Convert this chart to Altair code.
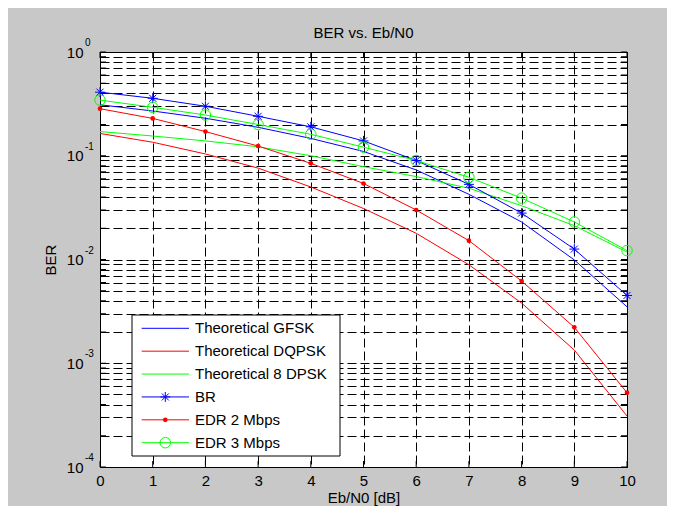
import altair as alt
import pandas as pd

# ---- data ----
ebn0 = [0, 1, 2, 3, 4, 5, 6, 7, 8, 9, 10]
theo_gfsk = [0.31, 0.27, 0.23, 0.188, 0.147, 0.11, 0.073, 0.0425, 0.023, 0.0099, 0.0035]
theo_dqpsk = [0.164, 0.135, 0.104, 0.076, 0.050, 0.031, 0.0179, 0.0089, 0.0038, 0.00134, 0.00031]
theo_8dpsk = [0.171, 0.155, 0.139, 0.122, 0.100, 0.0785, 0.063, 0.0486, 0.033, 0.0212, 0.0118]
br = [0.41, 0.358, 0.30, 0.24, 0.19, 0.139, 0.090, 0.053, 0.028, 0.0126, 0.0045]
edr2 = [0.284, 0.229, 0.171, 0.124, 0.0845, 0.054, 0.030, 0.0152, 0.0062, 0.00222, 0.00052]
edr3 = [0.344, 0.293, 0.247, 0.20, 0.161, 0.121, 0.090, 0.062, 0.039, 0.023, 0.0122]

series_names = ["Theoretical GFSK", "Theoretical DQPSK", "Theoretical 8 DPSK",
                "BR", "EDR 2 Mbps", "EDR 3 Mbps"]
series_colors = ["#0000ff", "#ff0000", "#00ff00", "#0000ff", "#ff0000", "#00ff00"]
series_values = [theo_gfsk, theo_dqpsk, theo_8dpsk, br, edr2, edr3]

x_ticks = list(range(11))
decades = [0, -1, -2, -3, -4]
y_ticks = [m * 10.0 ** e for e in [-4, -3, -2, -1] for m in range(1, 10)] + [1.0]

FONT = "Liberation Sans"
W, H = 527, 415

rows = []
for name, vals in zip(series_names, series_values):
    for xv, yv in zip(ebn0, vals):
        rows.append({"series": name, "ebn0": xv, "ber": yv})
df = pd.DataFrame(rows)

xscale = alt.Scale(domain=[0, 10], nice=False, zero=False)
yscale = alt.Scale(type="log", domain=[1e-4, 1], nice=False)
xaxis = alt.Axis(values=x_ticks, title="Eb/N0 [dB]", grid=True, gridColor="black",
                 gridDash=[9, 4], gridWidth=1, ticks=False, tickSize=0, domain=False,
                 labelPadding=6, labelFontSize=15, labelFont=FONT, labelColor="black",
                 labelFlush=False, labelOverlap=False,
                 titleFont=FONT, titleFontSize=15, titleFontWeight="normal", titleColor="black",
                 titleX=W / 2, titleY=35, titleBaseline="alphabetic", titleAlign="center")
yaxis = alt.Axis(values=y_ticks, title="BER", grid=True, gridColor="black",
                 gridDash=[9, 4], gridWidth=1, ticks=False, tickSize=0, domain=False,
                 labelExpr="abs(log(datum.value)/LN10 - round(log(datum.value)/LN10)) < 1e-6 ? '10' : ''",
                 labelPadding=17, labelFontSize=15, labelFont=FONT, labelColor="black",
                 labelBaseline="middle", labelOverlap=False, labelFlush=False,
                 titleFont=FONT, titleFontSize=15, titleFontWeight="normal", titleColor="black",
                 titleX=-45, titleY=H / 2, titleAngle=270, titleBaseline="alphabetic",
                 titleAlign="center")


def X(field="ebn0"):
    return alt.X(f"{field}:Q", scale=xscale, axis=xaxis)


def Y(field="ber"):
    return alt.Y(f"{field}:Q", scale=yscale, axis=yaxis)


color = alt.Color("series:N", scale=alt.Scale(domain=series_names, range=series_colors), legend=None)

STAR = "M-1,0L1,0M0,-1L0,1M-0.7,-0.7L0.7,0.7M-0.7,0.7L0.7,-0.7"

lines = alt.Chart(df).mark_line(strokeWidth=1).encode(x=X(), y=Y(), color=color,
                                                      order=alt.Order("ebn0:Q"))
br_pts = alt.Chart(df[df.series == "BR"]).mark_point(
    shape=STAR, size=100, filled=False, strokeWidth=1, color="#0000ff", opacity=1
).encode(x=X(), y=Y())
edr2_pts = alt.Chart(df[df.series == "EDR 2 Mbps"]).mark_point(
    shape="circle", size=22, filled=True, color="#ff0000", opacity=1
).encode(x=X(), y=Y())
edr3_pts = alt.Chart(df[df.series == "EDR 3 Mbps"]).mark_point(
    shape="circle", size=110, filled=False, strokeWidth=1, color="#00ff00", opacity=1
).encode(x=X(), y=Y())

# inward ticks (MATLAB style)
ytick_df = pd.DataFrame({"ber": y_ticks})
xtick_df = pd.DataFrame({"ebn0": x_ticks})
ytl = alt.Chart(ytick_df).mark_rule(color="black", strokeWidth=1).encode(
    y=Y(), x=alt.value(0), x2=alt.value(6))
ytr = alt.Chart(ytick_df).mark_rule(color="black", strokeWidth=1).encode(
    y=Y(), x=alt.value(W - 6), x2=alt.value(W))
xtb = alt.Chart(xtick_df).mark_rule(color="black", strokeWidth=1).encode(
    x=X(), y=alt.value(H - 6), y2=alt.value(H))
xtt = alt.Chart(xtick_df).mark_rule(color="black", strokeWidth=1).encode(
    x=X(), y=alt.value(0), y2=alt.value(6))

# exponent superscripts on the y tick labels
exp_df = pd.DataFrame({"ber": [10.0 ** e for e in decades], "exp": [str(e) for e in decades]})
exps = alt.Chart(exp_df).mark_text(align="left", baseline="alphabetic", dy=-6, fontSize=10,
                                   font=FONT, color="black").encode(
    y=Y(), x=alt.value(-15), text="exp:N")

main = alt.layer(xtb, xtt, ytl, ytr, lines, br_pts, edr2_pts, edr3_pts, exps)

# ---- legend drawn as marks ----
leg_df = pd.DataFrame({"row": list(range(6)), "series": series_names, "label": series_names})
ly = alt.Y("row:Q", scale=alt.Scale(domain=[0, 5], range=[276.3, 390.7], zero=False, nice=False),
           axis=None)
box = alt.Chart(pd.DataFrame({"a": [0]})).mark_rect(
    fill="white", stroke="black", strokeWidth=1
).encode(x=alt.value(32), x2=alt.value(240), y=alt.value(263), y2=alt.value(404))
leg_lines = alt.Chart(leg_df).mark_rule(strokeWidth=1).encode(
    y=ly, x=alt.value(41.7), x2=alt.value(89), color=color)
leg_star = alt.Chart(leg_df[leg_df.series == "BR"]).mark_point(
    shape=STAR, size=100, filled=False, strokeWidth=1, color="#0000ff", opacity=1
).encode(y=ly, x=alt.value(65.3))
leg_dot = alt.Chart(leg_df[leg_df.series == "EDR 2 Mbps"]).mark_point(
    shape="circle", size=22, filled=True, color="#ff0000", opacity=1
).encode(y=ly, x=alt.value(65.3))
leg_circ = alt.Chart(leg_df[leg_df.series == "EDR 3 Mbps"]).mark_point(
    shape="circle", size=110, filled=False, strokeWidth=1, color="#00ff00", opacity=1
).encode(y=ly, x=alt.value(65.3))
leg_text = alt.Chart(leg_df).mark_text(align="left", baseline="middle", fontSize=15, font=FONT,
                                       color="black").encode(
    y=ly, x=alt.value(95), text="label:N")
legend = alt.layer(box, leg_lines, leg_star, leg_dot, leg_circ, leg_text)

chart = alt.layer(main, legend).resolve_scale(y="independent").properties(
    width=W, height=H,
    title=alt.TitleParams("BER vs. Eb/N0", font=FONT, fontSize=15, fontWeight="normal",
                          color="black", anchor="middle", baseline="alphabetic", offset=14,
                          dy=29),
    background="#c8c8c8",
    padding={"left": 92, "top": 44, "right": 40, "bottom": 39},
    autosize=alt.AutoSizeParams(type="none"),
).configure_view(stroke="black", strokeWidth=1, fill="white")

chart.save("out.html", embed_options={"renderer": "svg", "actions": False})
